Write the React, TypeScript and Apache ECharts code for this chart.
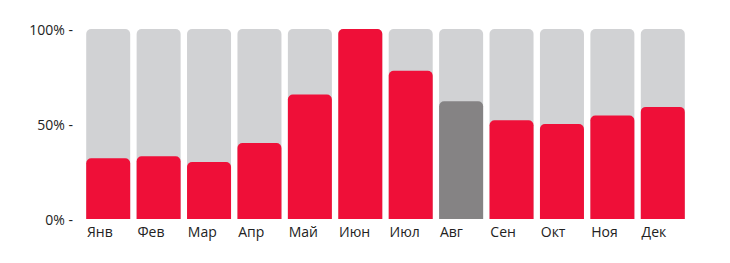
import React, { useEffect, useRef } from "react";
import * as echarts from "echarts";

const months = ["Янв", "Фев", "Мар", "Апр", "Май", "Июн", "Июл", "Авг", "Сен", "Окт", "Ноя", "Дек"];
const values = [32, 33, 30, 40, 65.5, 100, 78, 62, 52, 50, 54.5, 59];
const highlightIndex = 7;
const yTicks = [0, 50, 100];

export default function App() {
  const ref = useRef<HTMLDivElement>(null);
  useEffect(() => {
    const chart = echarts.init(ref.current!, null, { renderer: "svg" });
    const font = "'Open Sans', 'Noto Sans', sans-serif";
    chart.setOption({
      animation: false,
      grid: { left: 83, right: 42, top: 29, bottom: 44 },
      xAxis: [
        {
          type: "category",
          data: months,
          axisLine: { show: false },
          axisTick: { show: false },
          axisLabel: { show: false },
        },
        {
          type: "category",
          position: "bottom",
          boundaryGap: false,
          data: [...months, ""],
          axisLine: { show: false },
          axisTick: { show: false },
          axisLabel: {
            align: "left",
            margin: 5,
            padding: [0, 0, 0, 4],
            color: "#222",
            fontSize: 14,
            fontFamily: font,
            interval: 0,
          },
        },
      ],
      yAxis: {
        type: "value",
        min: 0,
        max: 100,
        interval: 50,
        splitLine: { show: false },
        axisLine: { show: false },
        axisTick: { show: false },
        axisLabel: {
          margin: 10,
          color: "#222",
          fontSize: 14,
          fontFamily: font,
          formatter: (v: number) => (yTicks.includes(v) ? `${v}% -` : ""),
        },
      },
      series: [
        {
          type: "bar",
          xAxisIndex: 0,
          barWidth: 44,
          showBackground: true,
          backgroundStyle: { color: "#d1d2d4", borderRadius: [5, 5, 0, 0] },
          data: values.map((v, i) => ({
            value: v,
            itemStyle: {
              color: i === highlightIndex ? "#858384" : "#ef0f38",
              borderRadius: [5, 5, 0, 0],
            },
          })),
        },
      ],
    });
    return () => chart.dispose();
  }, []);
  return <div ref={ref} style={{ width: 730, height: 263, position: "absolute", left: 0, top: 0 }} />;
}
